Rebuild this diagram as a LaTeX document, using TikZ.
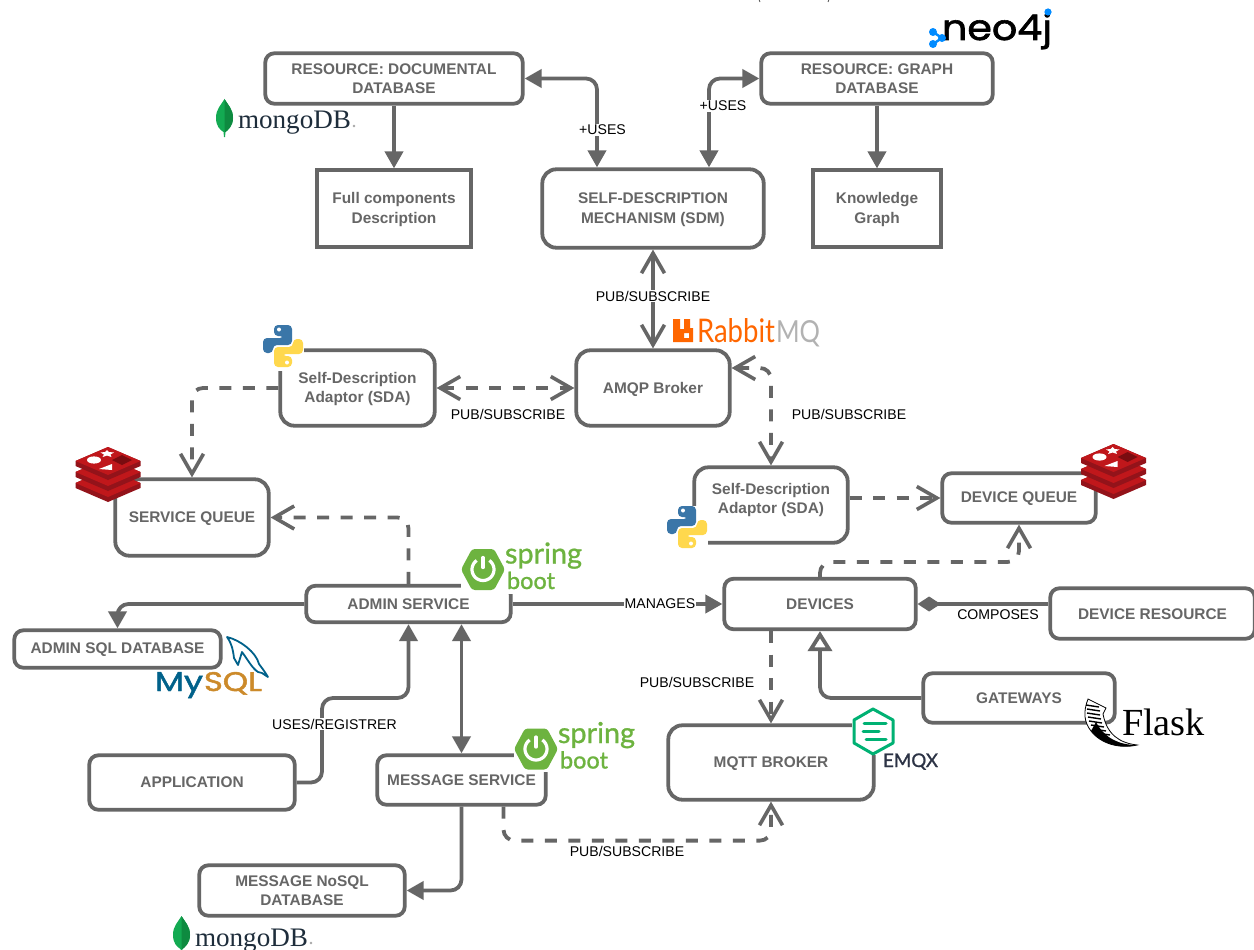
\documentclass[tikz,border=0pt]{standalone}
\usepackage{fontspec}
\usepackage{graphicx}
\setmainfont{Liberation Sans}
\newfontfamily\serifl{Liberation Serif}
\newfontfamily\lato{Lato}
\newfontfamily\latob[FakeBold=1]{Lato}
\newfontfamily\popp{Poppins}
\newfontfamily\poppb[FakeBold=1.6]{Poppins}
\usetikzlibrary{arrows.meta,calc,positioning}
\definecolor{ln}{HTML}{666666}
\definecolor{mongoG}{HTML}{13AA52}
\definecolor{mongoD}{HTML}{0E8A40}
\definecolor{mongoT}{HTML}{1E2D3B}
\definecolor{springG}{HTML}{6DB33F}
\definecolor{redisA}{HTML}{C0171B}
\definecolor{redisB}{HTML}{93131A}
\definecolor{redisC}{HTML}{7A0C10}
\definecolor{pyB}{HTML}{3A76A8}
\definecolor{pyY}{HTML}{FFD84D}
\definecolor{rabbitO}{HTML}{FF6600}
\definecolor{neoB}{HTML}{018BFF}
\definecolor{emqG}{HTML}{00B173}
\definecolor{emqT}{HTML}{2C3345}
\definecolor{sqlB}{HTML}{00618A}
\definecolor{sqlO}{HTML}{CC8A2A}
\tikzset{
  x=1pt,y=-1pt,
  boxbase/.style={draw=ln,line width=3.8pt,outer sep=1.9pt,inner sep=0pt},
  boxtext/.style={inner sep=0pt,align=center,text=ln,font=\fontsize{15.4}{19.5}\selectfont\bfseries},
  rbox/.style={boxbase,rounded corners=9pt},
  bigbox/.style={boxbase,rounded corners=14pt},
  sqbox/.style={boxbase,rounded corners=0pt},
  lbl/.style={font=\fontsize{14.1}{16}\selectfont,text=black,inner sep=1pt},
  wlbl/.style={lbl,fill=white},
  conn/.style={draw=ln,line width=3.8pt,rounded corners=11pt},
  dsh/.style={conn,dash pattern=on 12pt off 11.5pt},
  fa/.style={arrows={-Triangle[length=17pt,width=18pt]}},
  faa/.style={arrows={Triangle[length=17pt,width=18pt]-Triangle[length=17pt,width=18pt]}},
  oa/.style={arrows={-Straight Barb[length=20pt,width=23pt,line width=3.6pt]}},
  oaa/.style={arrows={Straight Barb[length=20pt,width=23pt,line width=3.6pt]-Straight Barb[length=20pt,width=23pt,line width=3.6pt]}},
  logotxt/.style={inner sep=0pt,outer sep=0pt,anchor=base west},
}
% style, name, outer width, outer height, x, y, text offset, text
\newcommand{\bx}[8]{%
  \node[#1,minimum width={(#3-2.6)*1pt},minimum height={(#4-2.6)*1pt}] (#2) at (#5,#6) {};
  \node[boxtext] (#2t) at (#5,#6+#7) {#8};}
\newcommand{\mongologo}[3]{%
  \begin{scope}[shift={(#2,#3)}]
    \fill[mongoG] (8.5,0) .. controls (12,6) and (17,10) .. (17,19) .. controls (17,27) and (12,31) .. (9.5,33) -- (9,38) -- (8,38) -- (7.5,33) .. controls (4,31) and (0,27) .. (0,19) .. controls (0,10) and (5,6) .. (8.5,0) -- cycle;
    \fill[mongoD] (8.5,0) .. controls (12,6) and (17,10) .. (17,19) .. controls (17,27) and (12,31) .. (9.5,33) -- (8.5,33) -- cycle;
    \node[logotxt,text=mongoT] (#1) at (22,30) {\resizebox{113pt}{17.5pt}{\serifl mongoDB}};
    \fill[black!35] (138,27) circle (1.4);
  \end{scope}}
\newcommand{\redislogo}[2]{%
  \begin{scope}[shift={(#1,#2)}]
    \foreach \k in {2,1,0}{
      \fill[redisB] (-32.5,11*\k) -- (0,-14+11*\k) -- (32.5,11*\k) -- (32.5,5+11*\k) -- (0,19+11*\k) -- (-32.5,5+11*\k) -- cycle;
      \fill[redisA] (-32.5,11*\k) -- (0,-14+11*\k) -- (32.5,11*\k) -- (0,14+11*\k) -- cycle;
    }
    \fill[white] (-14,-1) ellipse (7 and 3.6);
    \fill[white] (-1,-11) -- (1,-9) -- (6,-8.5) -- (2.5,-6.5) -- (3.5,-4) -- (-1,-5.5) -- (-5.5,-4) -- (-4,-6.5) -- (-7.5,-8.5) -- (-3,-9) -- cycle;
    \fill[white] (4,3) -- (4,9) -- (-9,8) -- cycle;
    \fill[redisC] (14,-6) -- (24,-1) -- (14,4) -- (4,-1) -- cycle;
  \end{scope}}
\newcommand{\pythonlogo}[2]{%
  \begin{scope}[shift={(#1,#2)}]
    \fill[pyB,rounded corners=4pt] (-9,-21) -- (9,-21) -- (9,-1) -- (-10,-1) -- (-10,7) -- (-20,7) -- (-20,-8) -- (1,-8) -- (1,-10) -- (-9,-10) -- cycle;
    \fill[white] (-4,-16.5) circle (2);
    \fill[pyY,rounded corners=4pt] (9,21) -- (-9,21) -- (-9,1) -- (10,1) -- (10,-7) -- (20,-7) -- (20,8) -- (-1,8) -- (-1,10) -- (9,10) -- cycle;
    \fill[white] (4,16.5) circle (2);
  \end{scope}}
\newcommand{\springlogo}[3]{%
  \begin{scope}[shift={(#2,#3)}]
    \fill[springG,rounded corners=3pt] (-22,0) -- (-11,-20.5) -- (11,-20.5) -- (22,0) -- (11,20.5) -- (-11,20.5) -- cycle;
    \draw[white,line width=3.2pt] plot[domain=-55:235,samples=40] ({11*cos(\x)},{11*sin(\x)});
    \draw[white,line width=3.2pt,line cap=round] (0,-12) -- (0,-2);
    \node[logotxt,text=springG] (#1s) at (22,-6) {\resizebox{77pt}{!}{\latob spring}};
    \node[logotxt,text=springG] (#1b) at (24,19.5) {\resizebox{48pt}{!}{\latob boot}};
  \end{scope}}
\begin{document}
\begin{tikzpicture}
\useasboundingbox (0,0) rectangle (1254,950);
\fill[white] (0,0) rectangle (1254,950);
% boxes
\bx{rbox}{docdb}{260}{53}{394}{78.5}{0}{RESOURCE: DOCUMENTAL\\DATABASE}
\bx{sqbox}{full}{156}{79}{394}{208.5}{1.2}{Full components\\Description}
\bx{bigbox}{sdm}{224}{81}{653}{208.5}{1}{SELF-DESCRIPTION\\MECHANISM (SDM)}
\bx{rbox}{graphdb}{234}{53}{877}{78.5}{0}{RESOURCE: GRAPH\\DATABASE}
\bx{sqbox}{know}{130}{79}{877}{208.5}{1.2}{Knowledge\\Graph}
\bx{bigbox}{amqp}{156}{78}{653}{388}{1}{AMQP Broker}
\bx{bigbox}{sdaone}{157}{78}{357.5}{388}{1}{Self-Description\\Adaptor (SDA)}
\bx{bigbox}{sdatwo}{156}{78}{771}{505}{-5}{Self-Description\\Adaptor (SDA)}
\bx{bigbox}{squeue}{156}{79}{192}{517.5}{1}{SERVICE QUEUE}
\bx{rbox}{dqueue}{156}{52}{1019}{498}{1}{DEVICE QUEUE}
\bx{rbox}{admin}{207}{39}{408.5}{604}{0}{ADMIN SERVICE}
\bx{rbox}{devices}{194}{53}{820}{604}{0}{DEVICES}
\bx{rbox}{dres}{207}{53}{1152.5}{613.5}{1}{DEVICE RESOURCE}
\bx{rbox}{sqldb}{209}{40}{117.5}{649}{1}{ADMIN SQL DATABASE}
\bx{rbox}{app}{208}{57}{192}{782.5}{0}{APPLICATION}
\bx{rbox}{message}{171}{52}{461.5}{780}{0}{MESSAGE SERVICE}
\bx{rbox}{nosql}{208}{53}{302}{890.5}{0}{MESSAGE NoSQL\\DATABASE}
\bx{rbox}{gw}{194}{52}{1019}{698}{0}{GATEWAYS}
\bx{bigbox}{mqtt}{208}{77}{771}{762.5}{1}{MQTT BROKER}
% connectors
\draw[conn,fa] (docdb.south) -- (full.north);
\draw[conn,fa] (graphdb.south) -- (know.north);
\draw[conn,faa] (docdb.east) -| ([xshift=-56pt]sdm.north);
\draw[conn,faa] (graphdb.west) -| ([xshift=56pt]sdm.north);
\draw[conn,oaa] (sdm.south) -- (amqp.north);
\draw[dsh,oaa] (sdaone.east) -- (amqp.west);
\draw[dsh,oa] (sdaone.west) -| (squeue.north);
\draw[dsh,oa] (admin.north) |- (squeue.east);
\draw[dsh,oaa] ([yshift=20pt]amqp.east) -| (sdatwo.north);
\draw[dsh,oa] (sdatwo.east |- dqueue.west) -- (dqueue.west);
\draw[conn,fa] (admin.west) -| (sqldb.north);
\draw[conn,fa] (admin.east) -- (devices.west);
\draw[conn,fa] (app.east) -| (322,698) -| (admin.south);
\draw[conn,faa] (message.north |- admin.south) -- (message.north);
\draw[conn,fa] (message.south) |- (nosql.east);
\draw[dsh,oa] ([xshift=42pt]message.south) -- ++(0,34) -| (mqtt.south);
\draw[dsh,oa] (mqtt.north |- devices.south) -- (mqtt.north);
\draw[dsh,oa] (devices.north) -- ++(0,-15) -| (dqueue.south);
\draw[conn,arrows={-Diamond[length=23pt,width=15pt]}] (dres.west |- devices.east) -- (devices.east);
\draw[conn,arrows={-Triangle[open,length=20pt,width=24pt,fill=white]}] (gw.west) -| (devices.south);
% labels
\node[wlbl] (l1) at (602.5,130) {+USES};
\node[wlbl] (l2) at (723,106) {+USES};
\node[wlbl] (l3) at (653,296) {PUB/SUBSCRIBE};
\node[lbl] (l4) at (508,414) {PUB/SUBSCRIBE};
\node[lbl] (l5) at (849,414) {PUB/SUBSCRIBE};
\node[lbl] (l6) at (697,682) {PUB/SUBSCRIBE};
\node[lbl] (l7) at (627,851) {PUB/SUBSCRIBE};
\node[wlbl] (l8) at (660,604) {MANAGES};
\node[lbl] (l9) at (998,615) {COMPOSES};
\node[wlbl] (l10) at (334.5,724) {USES/REGISTRER};
% white backs of the logos
\fill[white] (461,545) rectangle (584,594);
\fill[white] (514,725) rectangle (637,772);
\fill[white] (852,706) rectangle (895,755);
\fill[white] (263,325) rectangle (304,371);
\fill[white] (667,506) rectangle (708,548);
% logos
\mongologo{mongoa}{216}{99}
\mongologo{mongob}{173}{916}
\redislogo{108}{461}
\redislogo{1113.5}{458}
\pythonlogo{283}{346}
\pythonlogo{687}{527}
\springlogo{springa}{483}{569.5}
\springlogo{springb}{536}{749}
% neo4j
\node[logotxt,text=black] (neo) at (942,40) {\resizebox{110pt}{27pt}{\poppb neo4j}};
\draw[neoB,line width=2.4pt] (933,32) -- (942,38) -- (933,44);
\fill[neoB] (933,32) circle (4) (933,44) circle (4) (942,38) circle (4) (1048,12) circle (3.6);
% rabbitmq
\fill[rabbitO,even odd rule] (673,319) -- (680,319) -- (680,329) -- (684,329) -- (684,319) -- (690,319) -- (690,328) -- (693,328) -- (693,342) -- (673,342) -- cycle (684,333) rectangle (689,338);
\node[logotxt,text=rabbitO] (rabbit) at (697,342) {\resizebox{78pt}{24pt}{\lato Rabbit}};
\node[logotxt,text=black!30] (mq) at (776,342) {\resizebox{44pt}{22pt}{\lato MQ}};
% emqx
\draw[emqG,line width=3pt,line join=round] (873,709) -- (893,720) -- (893,743) -- (873,754) -- (854,743) -- (854,720) -- cycle;
\draw[emqG,line width=3pt,line cap=round] (864,723) -- (886,723) (863,731) -- (879,731) (866,739) -- (886,739);
\node[logotxt,text=emqT] (emqx) at (883,767) {\resizebox{55pt}{!}{\latob EMQX}};
% flask
\draw[black,fill=white,line width=0.8pt] (1088,699) .. controls (1083,712) and (1084,722) .. (1091,731) .. controls (1101,744) and (1120,749) .. (1137,745) .. controls (1120,743) and (1107,735) .. (1103,714) -- (1106,708) -- cycle;
\foreach \a/\b in {1086/705,1087/709,1087/713,1088/717,1089/721,1091/725,1093/729,1097/733}{
  \draw[black,line width=1.4pt] (\a,\b) -- ++(13,2);
}
\fill[black] (1091,731) .. controls (1101,744) and (1120,749) .. (1137,745) .. controls (1120,745) and (1105,739) .. (1096,722) -- cycle;
\node[logotxt,text=black] (flask) at (1122,735) {\resizebox{83pt}{!}{\serifl Flask}};
% mysql
\draw[sqlB,line width=1.8pt,line join=round] (227,637) .. controls (240,640) and (256,652) .. (259,664) .. controls (262,668) and (265,672) .. (268,677) -- (262,673) -- (258,672) .. controls (252,668) and (248,660) .. (242,652) -- (238,665) -- (234,658) .. controls (233,650) and (232,644) .. (227,637) -- cycle;
\node[logotxt,text=sqlB] (my) at (155,691) {\resizebox{48pt}{19pt}{\poppb My}};
\node[logotxt,text=sqlO] (sql) at (204,691) {\resizebox{58pt}{19pt}{\poppb SQL}};
% clipped line at the top edge
\draw[black!70,line width=0.8pt] (758,-3) .. controls (758.5,0) .. (760,2);
\draw[black!70,line width=0.8pt] (830,-3) .. controls (829.5,0) .. (828,2);
\end{tikzpicture}
\end{document}
